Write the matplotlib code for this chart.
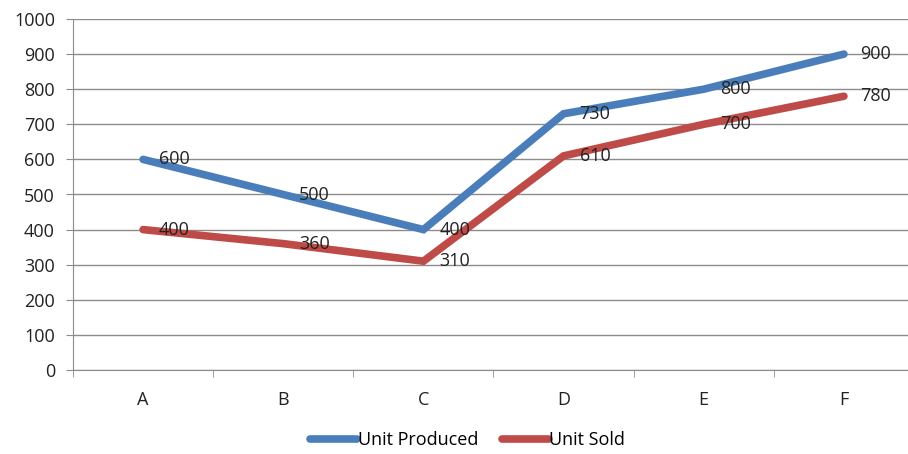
import matplotlib
matplotlib.use("Agg")
import matplotlib.pyplot as plt
import numpy as np

categories = ["A", "B", "C", "D", "E", "F"]
produced = [600, 500, 400, 730, 800, 900]
sold = [400, 360, 310, 610, 700, 780]
series_names = ["Unit Produced", "Unit Sold"]

plt.rcParams['font.family'] = ['Open Sans', 'DejaVu Sans']

fig = plt.figure(figsize=(9.08, 4.54), dpi=100)
ax = fig.add_axes([73/908, 1-370/454, 841/908, 351/454])

FS = 13
x = np.arange(len(categories))
blue = "#4A7EBB"
red = "#BE4B48"
ax.plot(x, produced, color=blue, lw=5.5, solid_capstyle='round', solid_joinstyle='miter', label=series_names[0], zorder=3)
ax.plot(x, sold, color=red, lw=5.5, solid_capstyle='round', solid_joinstyle='miter', label=series_names[1], zorder=3)

for xi, v in zip(x, produced):
    ax.annotate(str(v), (xi, v), xytext=(11.5, 0), textcoords='offset points', va='center', ha='left', fontsize=FS, color='#222222', zorder=4)
for xi, v in zip(x, sold):
    ax.annotate(str(v), (xi, v), xytext=(11.5, 0), textcoords='offset points', va='center', ha='left', fontsize=FS, color='#222222', zorder=4)

ax.set_xlim(-0.5, 5.5)
ax.set_ylim(0, 1000)
ax.set_yticks(np.arange(0, 1001, 100))
ax.set_xticks(x)
ax.set_xticklabels(categories)
ax.set_xticks(np.arange(-0.5, 5.6, 1), minor=True)
ax.grid(axis='y', color='#8c8c8c', lw=1.0, zorder=0)
for s in ['top', 'right']:
    ax.spines[s].set_visible(False)
ax.spines['left'].set_color('#8c8c8c')
ax.spines['bottom'].set_color('#8c8c8c')
ax.tick_params(axis='y', length=5, color='#8c8c8c', labelsize=FS, pad=8, labelcolor='#222222')
ax.tick_params(axis='x', which='major', length=0, labelsize=FS, pad=15, labelcolor='#222222')
ax.tick_params(axis='x', which='minor', length=5, color='#8c8c8c')

leg = fig.legend(loc='center', bbox_to_anchor=(0.515, 1-440/454), ncol=2, frameon=False,
                 fontsize=FS, handlelength=2.6, handletextpad=0.05, columnspacing=1.3)
for h in leg.get_lines():
    h.set_linewidth(5.5)

fig.savefig("out.png", dpi=100)
